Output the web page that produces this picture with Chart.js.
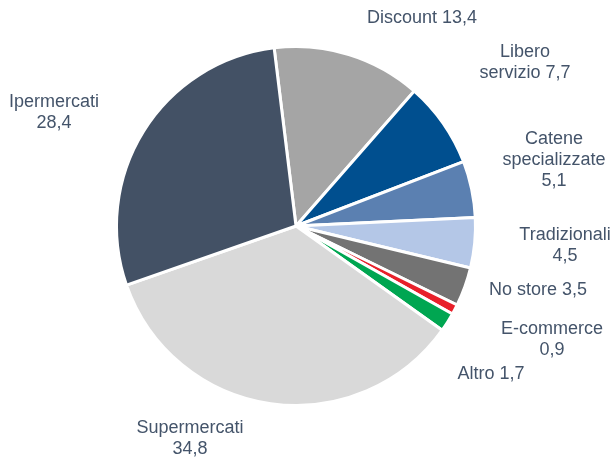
<!DOCTYPE html>
<html>
<head>
<meta charset="utf-8">
<script src="https://cdn.jsdelivr.net/npm/chart.js@4"></script>
<style>
  html, body { margin: 0; padding: 0; background: #fff; }
  #wrap { width: 613px; height: 459px; }
</style>
</head>
<body>
<div id="wrap"><canvas id="pieChart" width="613" height="459"></canvas></div>
<script>
const categories = ['Discount', 'Libero servizio', 'Catene specializzate', 'Tradizionali', 'No store', 'E-commerce', 'Altro', 'Supermercati', 'Ipermercati'];
const shares = [13.4, 7.7, 5.1, 4.5, 3.5, 0.9, 1.7, 34.8, 28.4];
const labelLines = [
    ['Discount 13,4'],
    ['Libero', 'servizio 7,7'],
    ['Catene', 'specializzate', '5,1'],
    ['Tradizionali', '4,5'],
    ['No store 3,5'],
    ['E-commerce', '0,9'],
    ['Altro 1,7'],
    ['Supermercati', '34,8'],
    ['Ipermercati', '28,4']
];

const colors = ['#a5a5a5', '#004f8f', '#5b80b1', '#b4c7e7', '#737373', '#e8202a', '#00a651', '#d9d9d9', '#435165'];

// label centres, relative to the pie centre
const labelOffsets = [
    [126, -208], [229, -163], [258, -66], [269, 20], [242, 64],
    [256, 114], [195, 148], [-106, 213], [-242, -113]
];

const outsideLabels = {
    id: 'outsideLabels',
    afterDatasetsDraw(chart) {
        const arc = chart.getDatasetMeta(0).data[0];
        const ctx = chart.ctx;
        ctx.save();
        ctx.font = '18px "Liberation Sans", Arial, sans-serif';
        ctx.fillStyle = '#44546a';
        ctx.textAlign = 'center';
        ctx.textBaseline = 'middle';
        labelLines.forEach(function(lines, i) {
            const cx = arc.x + labelOffsets[i][0];
            const cy = arc.y + labelOffsets[i][1];
            const lh = 21;
            lines.forEach(function(line, j) {
                ctx.fillText(line, cx, cy + (j - (lines.length - 1) / 2) * lh);
            });
        });
        ctx.restore();
    }
};

const ctx = document.getElementById('pieChart').getContext('2d');
const pieChart = new Chart(ctx, {
    type: 'pie',
    data: {
        labels: categories,
        datasets: [{
            data: shares,
            backgroundColor: colors,
            borderColor: '#ffffff',
            borderWidth: 3
        }]
    },
    options: {
        responsive: false,
        animation: false,
        rotation: -7,
        layout: {
            padding: { top: 45, bottom: 52, left: 115, right: 136 }
        },
        plugins: {
            legend: { display: false },
            tooltip: { enabled: false }
        }
    },
    plugins: [outsideLabels]
});
</script>
</body>
</html>
